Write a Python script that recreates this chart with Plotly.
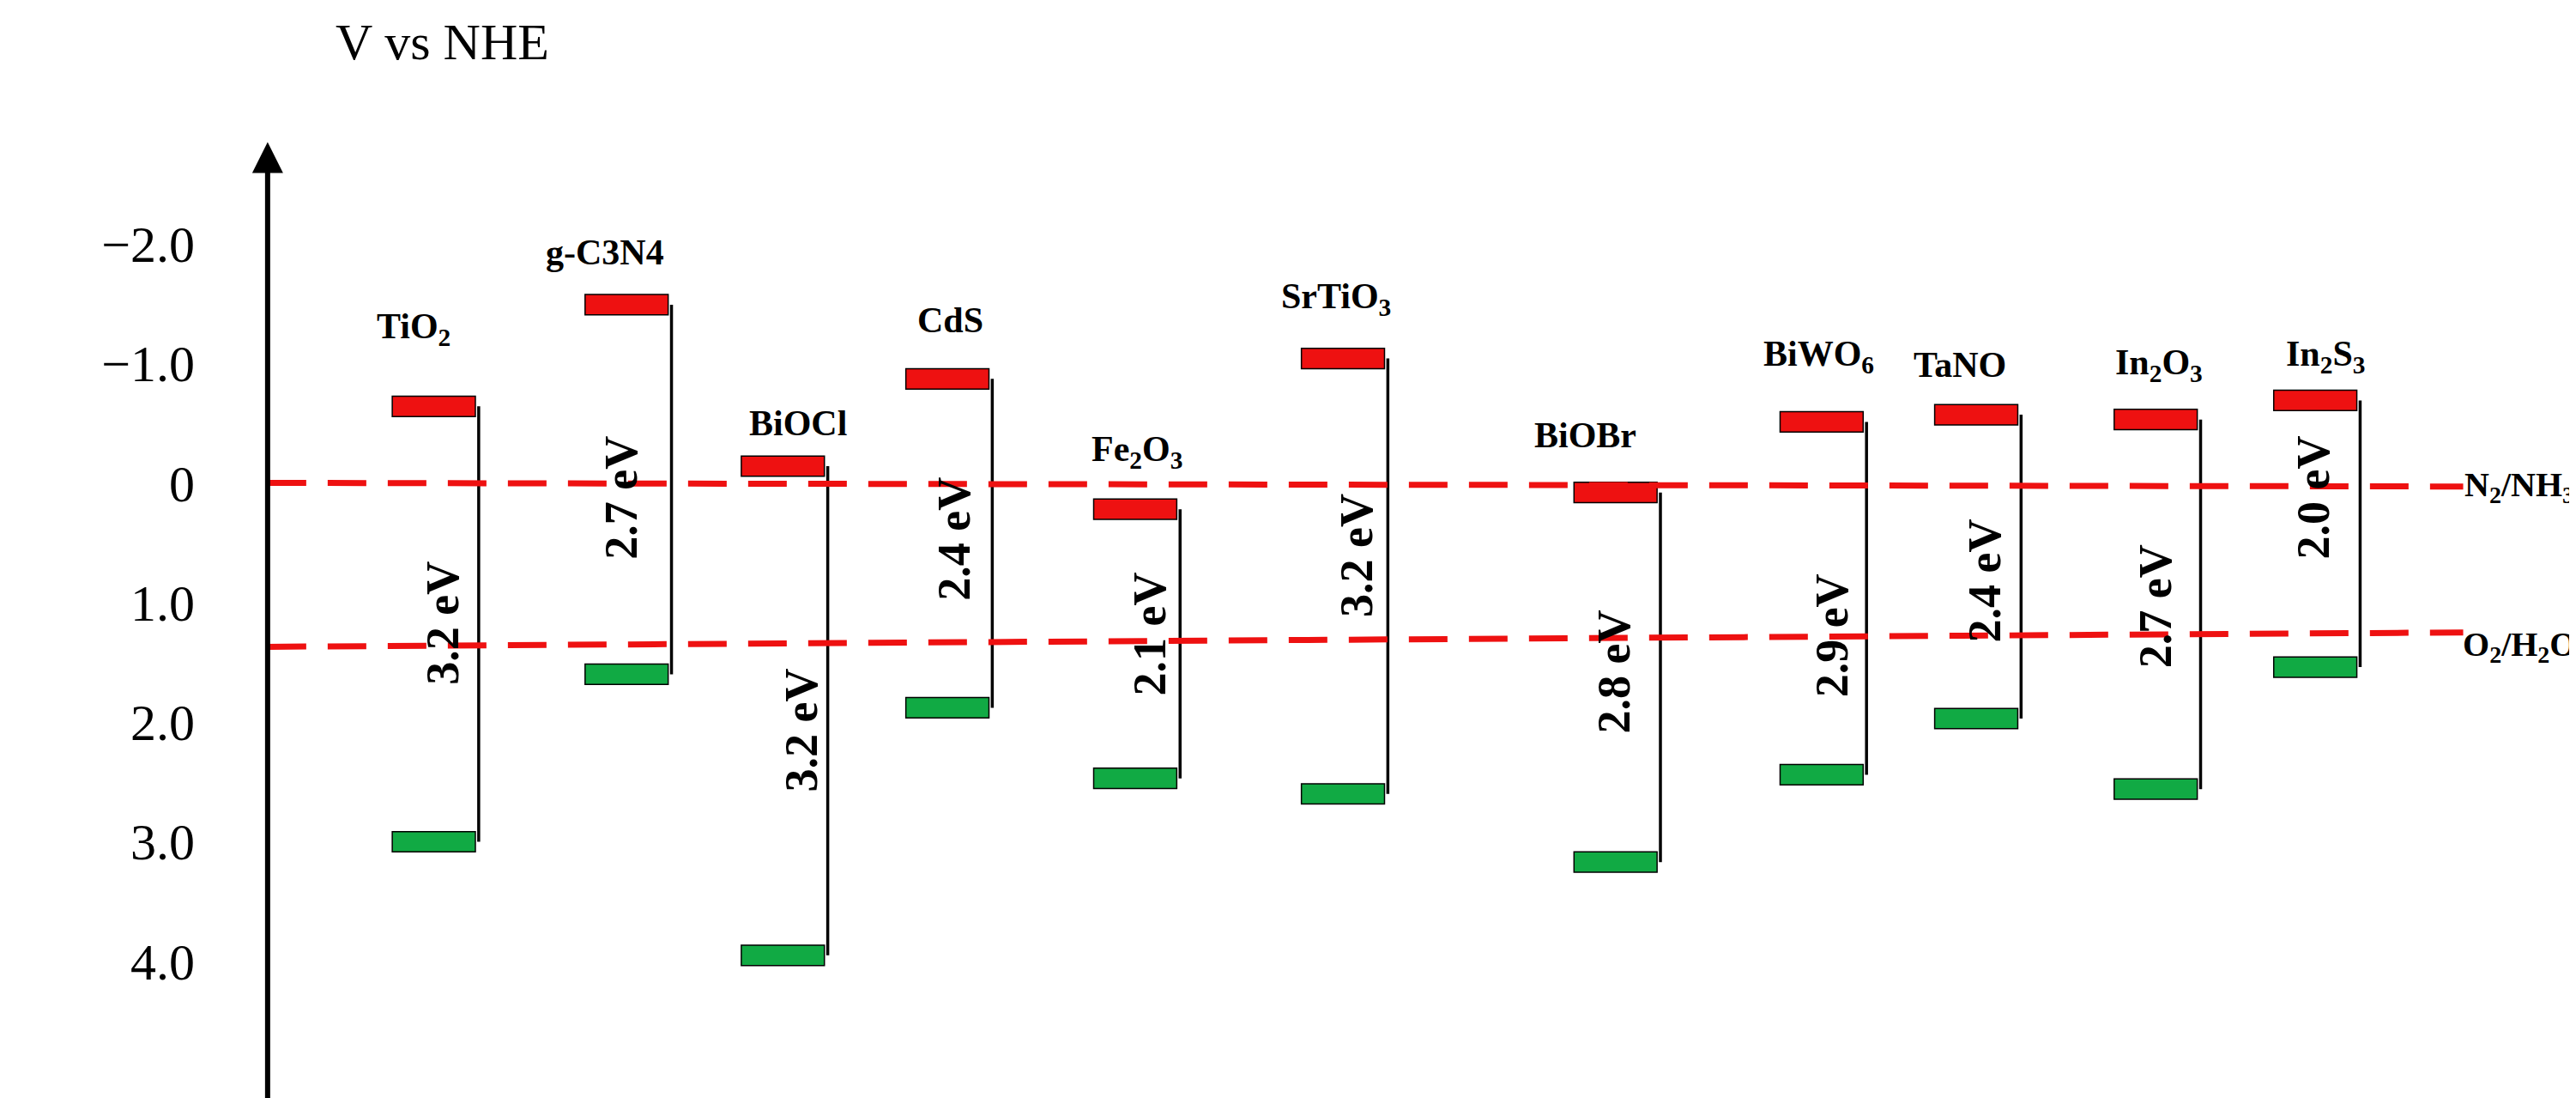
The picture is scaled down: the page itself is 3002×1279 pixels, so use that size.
import plotly.graph_objects as go

# materials, positions (x in reference px units), band edges in V vs NHE
names = ["TiO<sub>2</sub>", "g-C3N4", "BiOCl", "CdS", "Fe<sub>2</sub>O<sub>3</sub>", "SrTiO<sub>3</sub>",
         "BiOBr", "BiWO<sub>6</sub>", "TaNO", "In<sub>2</sub>O<sub>3</sub>", "In<sub>2</sub>S<sub>3</sub>"]
xc = [257, 373, 467, 566, 679, 804, 968, 1092, 1185, 1293, 1389]
cb = [-0.64, -1.49, -0.14, -0.87, 0.22, -1.04, 0.08, -0.51, -0.57, -0.53, -0.69]
vb = [3.0, 1.6, 3.95, 1.88, 2.47, 2.6, 3.17, 2.44, 1.97, 2.56, 1.54]
gaps = ["3.2 eV", "2.7 eV", "3.2 eV", "2.4 eV", "2.1 eV", "3.2 eV", "2.8 eV", "2.9 eV", "2.4 eV", "2.7 eV", "2.0 eV"]
gap_x = [262, 370, 478, 570, 688, 812, 967, 1098, 1190, 1293, 1388]
gap_y = [1.17, 0.12, 2.07, 0.47, 1.26, 0.61, 1.58, 1.28, 0.82, 1.03, 0.12]
lab_x = [245, 360, 476, 568, 680, 800, 950, 1090, 1175, 1295, 1395]
lab_y = [-1.29, -1.93, -0.5, -1.36, -0.26, -1.54, -0.4, -1.06, -0.99, -0.99, -1.06]
tick_vals = [-2, -1, 0, 1, 2, 3, 4]
tick_text = ["\u22122.0", "\u22121.0", "0", "1.0", "2.0", "3.0", "4.0"]

FONT = "Liberation Serif"
fig = go.Figure()

bh = 0.17
fig.add_trace(go.Bar(x=xc, y=[bh] * len(xc), base=[c - bh / 2 for c in cb], width=50,
                     marker=dict(color="#ee1111", line=dict(color="black", width=1.5))))
fig.add_trace(go.Bar(x=xc, y=[bh] * len(xc), base=[v - bh / 2 for v in vb], width=50,
                     marker=dict(color="#11aa44", line=dict(color="black", width=1.5))))

for x, c, v in zip(xc, cb, vb):
    fig.add_trace(go.Scatter(x=[x + 27, x + 27], y=[c, v], mode="lines",
                             line=dict(color="black", width=3.5)))

# reference levels
fig.add_trace(go.Scatter(x=[157, 1478], y=[0.0, 0.03], mode="lines",
                         line=dict(color="#ee1111", width=7, dash="45px,25px")))
fig.add_trace(go.Scatter(x=[157, 1478], y=[1.37, 1.25], mode="lines",
                         line=dict(color="#ee1111", width=7, dash="45px,25px")))

for n, x, y in zip(names, lab_x, lab_y):
    fig.add_annotation(x=x, y=y, text="<b>" + n + "</b>", showarrow=False,
                       font=dict(size=42, family=FONT, color="black"))
for g, x, y in zip(gaps, gap_x, gap_y):
    fig.add_annotation(x=x, y=y, text="<b>" + g + "</b>", showarrow=False, textangle=-90,
                       font=dict(size=54, family=FONT, color="black"))
fig.add_annotation(x=1512, y=0.03, text="<b>N<sub>2</sub>/NH<sub>3</sub></b>", showarrow=False,
                   font=dict(size=40, family=FONT, color="black"))
fig.add_annotation(x=1512, y=1.37, text="<b>O<sub>2</sub>/H<sub>2</sub>O</b>", showarrow=False,
                   font=dict(size=40, family=FONT, color="black"))

# vertical axis arrow
fig.add_annotation(x=157, y=-2.85, ax=157, ay=5.2, xref="x", yref="y", axref="x", ayref="y",
                   text="", showarrow=True, arrowhead=2, arrowsize=1.2, arrowwidth=6, arrowcolor="black")
fig.add_annotation(xref="paper", yref="paper", x=0.03, y=0.995, xanchor="left", yanchor="top",
                   text="V vs NHE", showarrow=False, font=dict(size=60, family=FONT, color="black"))

fig.update_layout(
    width=3002, height=1279, showlegend=False, barmode="overlay",
    plot_bgcolor="white", paper_bgcolor="white",
    margin=dict(l=300, r=0, t=0, b=0),
    xaxis=dict(range=[155, 1550], visible=False),
    yaxis=dict(range=[5.2, -3.98], tickvals=tick_vals, ticktext=tick_text, showgrid=False,
               zeroline=False, showline=False, ticks="", ticklabelstandoff=80,
               tickfont=dict(size=60, family=FONT, color="black")),
)
fig.write_html("out.html")
